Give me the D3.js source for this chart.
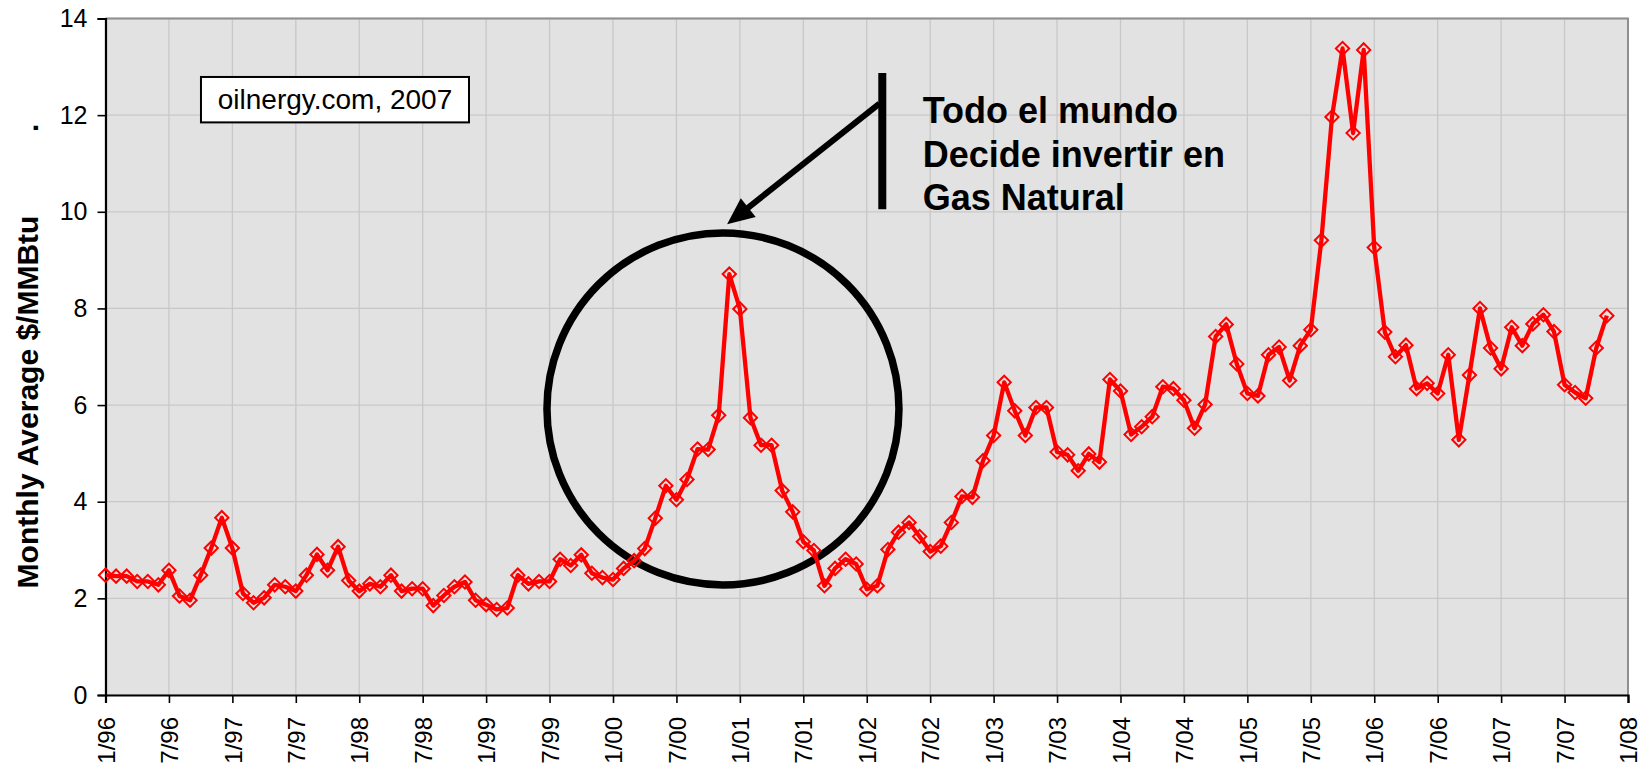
<!DOCTYPE html>
<html>
<head>
<meta charset="utf-8">
<script src="https://d3js.org/d3.v7.min.js"></script>
<style>
  body { margin: 0; background: #fff; }
  text { font-family: Arial, "Liberation Sans", sans-serif; }
</style>
</head>
<body>
<script>
// monthly average price $/MMBtu, one value per month from 1/96 to 11/07
var prices = [
  2.48, 2.46, 2.46, 2.35, 2.35, 2.28, 2.58, 2.05, 1.96, 2.48, 3.04, 3.67,   // 1996
  3.04, 2.10, 1.91, 2.01, 2.28, 2.24, 2.15, 2.48, 2.91, 2.58, 3.07, 2.37,   // 1997
  2.15, 2.30, 2.24, 2.48, 2.15, 2.20, 2.20, 1.85, 2.06, 2.24, 2.34, 1.96,   // 1998
  1.87, 1.77, 1.80, 2.48, 2.30, 2.35, 2.35, 2.81, 2.68, 2.90, 2.52, 2.43,   // 1999
  2.39, 2.62, 2.78, 3.03, 3.66, 4.33, 4.04, 4.46, 5.09, 5.08, 5.79, 8.71,   // 2000
  7.99, 5.74, 5.17, 5.17, 4.23, 3.79, 3.17, 2.99, 2.26, 2.62, 2.81, 2.71,   // 2001
  2.19, 2.26, 3.01, 3.37, 3.57, 3.28, 2.97, 3.08, 3.57, 4.11, 4.09, 4.85,   // 2002
  5.37, 6.47, 5.88, 5.37, 5.95, 5.95, 5.03, 4.97, 4.64, 4.99, 4.82, 6.53,   // 2003
  6.29, 5.39, 5.55, 5.76, 6.38, 6.34, 6.10, 5.52, 6.01, 7.42, 7.67, 6.85,   // 2004
  6.24, 6.19, 7.04, 7.20, 6.51, 7.23, 7.56, 9.41, 11.96, 13.38, 11.63, 13.35, // 2005
  9.26, 7.51, 7.00, 7.24, 6.34, 6.45, 6.24, 7.04, 5.28, 6.62, 8.00, 7.18,   // 2006
  6.75, 7.61, 7.23, 7.68, 7.87, 7.52, 6.42, 6.26, 6.14, 7.18, 7.85          // 2007
];

// x tick labels, every 6 months
var tickLabels = ["1/96","7/96","1/97","7/97","1/98","7/98","1/99","7/99","1/00","7/00",
  "1/01","7/01","1/02","7/02","1/03","7/03","1/04","7/04","1/05","7/05",
  "1/06","7/06","1/07","7/07","1/08"];
var yTicks = [0, 2, 4, 6, 8, 10, 12, 14];

var yTitle = "Monthly Average $/MMBtu";
var sourceText = "oilnergy.com, 2007";
var noteLines = ["Todo el mundo", "Decide invertir en", "Gas Natural"];

var width = 1646, height = 765;
var plot = {left: 105.5, right: 1628, top: 18.5, bottom: 695};

var svg = d3.select("body").append("svg")
    .attr("width", width)
    .attr("height", height);

// scales: x is month index since 1/96
var x = d3.scaleLinear().domain([0, 144]).range([plot.left, plot.right]);
var y = d3.scaleLinear().domain([0, 14]).range([plot.bottom, plot.top]);

// plot background
svg.append("rect")
    .attr("x", plot.left).attr("y", plot.top)
    .attr("width", plot.right - plot.left)
    .attr("height", plot.bottom - plot.top)
    .style("fill", "#e2e2e2");

// grid lines
svg.append("g").selectAll("line")
    .data(tickLabels)
  .enter().append("line")
    .attr("x1", function(d, i) { return x(i * 6); })
    .attr("x2", function(d, i) { return x(i * 6); })
    .attr("y1", plot.top).attr("y2", plot.bottom)
    .style("stroke", "#c8c8c8").style("stroke-width", 1.3);

svg.append("g").selectAll("line")
    .data(yTicks)
  .enter().append("line")
    .attr("x1", plot.left).attr("x2", plot.right)
    .attr("y1", function(d) { return y(d); })
    .attr("y2", function(d) { return y(d); })
    .style("stroke", "#c8c8c8").style("stroke-width", 1.3);

// top / right frame
svg.append("path")
    .attr("d", "M" + plot.left + "," + plot.top + "H" + plot.right + "V" + plot.bottom)
    .style("fill", "none").style("stroke", "#8f8f8f").style("stroke-width", 2);

// axes
var yAxis = d3.axisLeft(y).tickValues(yTicks).tickSize(8).tickPadding(10);
var gy = svg.append("g")
    .attr("transform", "translate(" + plot.left + ",0)")
    .call(yAxis);
gy.selectAll("text").style("font-size", "25px").style("fill", "#000")
    .style("font-family", "Arial, 'Liberation Sans', sans-serif");

var xAxis = d3.axisBottom(x)
    .tickValues(d3.range(0, 145, 6))
    .tickSize(8)
    .tickFormat(function(d) { return tickLabels[d / 6]; });
var gx = svg.append("g")
    .attr("transform", "translate(0," + plot.bottom + ")")
    .call(xAxis);
gx.selectAll("text")
    .style("font-size", "24px").style("fill", "#000")
    .style("font-family", "Arial, 'Liberation Sans', sans-serif")
    .style("text-anchor", "end")
    .attr("transform", "rotate(-90)")
    .attr("x", -22).attr("y", 0).attr("dy", "0.36em");

[gx, gy].forEach(function(g) {
  g.select(".domain").style("stroke", "#000").style("stroke-width", 2.2);
  g.selectAll(".tick line").style("stroke", "#000").style("stroke-width", 1.6);
});

// y title
svg.append("text")
    .attr("transform", "translate(38," + 402 + ") rotate(-90)")
    .style("text-anchor", "middle")
    .style("font-size", "30px").style("font-weight", "bold")
    .text(yTitle);
svg.append("text")
    .attr("transform", "translate(38,132) rotate(-90)")
    .style("font-size", "30px").style("font-weight", "bold")
    .text(".");

// annotation circle round the 2000/01 spike (drawn under the series)
var ring = {month: 58.4, value: 5.92, r: 176};
svg.append("circle")
    .attr("cx", x(ring.month)).attr("cy", y(ring.value)).attr("r", ring.r)
    .style("fill", "none").style("stroke", "#000").style("stroke-width", 7.5);

// the series
var line = d3.line()
    .x(function(d, i) { return x(i); })
    .y(function(d) { return y(d); });

svg.append("path")
    .datum(prices)
    .attr("d", line)
    .style("fill", "none")
    .style("stroke", "#ff0000")
    .style("stroke-width", 4.3)
    .style("stroke-linejoin", "round");

var diamond = d3.symbol().type(d3.symbolSquare).size(88);
svg.append("g").selectAll("path")
    .data(prices)
  .enter().append("path")
    .attr("d", diamond)
    .attr("transform", function(d, i) { return "translate(" + x(i) + "," + y(d) + ") rotate(45)"; })
    .style("fill", "none")
    .style("stroke", "#ff0000")
    .style("stroke-width", 2);

// source box
var src = {month: 9.03, month2: 34.38, top: 12.79, bottom: 11.85};
svg.append("rect")
    .attr("x", x(src.month)).attr("y", y(src.top))
    .attr("width", x(src.month2) - x(src.month))
    .attr("height", y(src.bottom) - y(src.top))
    .style("fill", "#fff").style("stroke", "#000").style("stroke-width", 2);
svg.append("text")
    .attr("x", (x(src.month) + x(src.month2)) / 2)
    .attr("y", y(12.13))
    .style("text-anchor", "middle")
    .style("font-size", "28px")
    .text(sourceText);

// bracket bar, arrow and note
var bar = {month: 73.47, top: 12.87, bottom: 10.05};
svg.append("line")
    .attr("x1", x(bar.month)).attr("x2", x(bar.month))
    .attr("y1", y(bar.top)).attr("y2", y(bar.bottom))
    .style("stroke", "#000").style("stroke-width", 8);

var tail = [x(73.2), y(12.24)], tip = [x(58.79), y(9.74)];
var dx = tip[0] - tail[0], dy = tip[1] - tail[1];
var len = Math.sqrt(dx * dx + dy * dy), ux = dx / len, uy = dy / len;
var headLen = 27, headW = 12;
var base = [tip[0] - ux * headLen, tip[1] - uy * headLen];
svg.append("line")
    .attr("x1", tail[0]).attr("y1", tail[1])
    .attr("x2", base[0] + ux * 4).attr("y2", base[1] + uy * 4)
    .style("stroke", "#000").style("stroke-width", 6);
svg.append("path")
    .attr("d", "M" + tip[0] + "," + tip[1] +
               "L" + (base[0] - uy * headW) + "," + (base[1] + ux * headW) +
               "L" + (base[0] + uy * headW) + "," + (base[1] - ux * headW) + "Z")
    .style("fill", "#000");

var noteBase = [11.83, 10.92, 10.03];
svg.append("g").selectAll("text")
    .data(noteLines)
  .enter().append("text")
    .attr("x", x(77.3))
    .attr("y", function(d, i) { return y(noteBase[i]); })
    .style("font-size", "36px").style("font-weight", "bold")
    .text(function(d) { return d; });
</script>
</body>
</html>
